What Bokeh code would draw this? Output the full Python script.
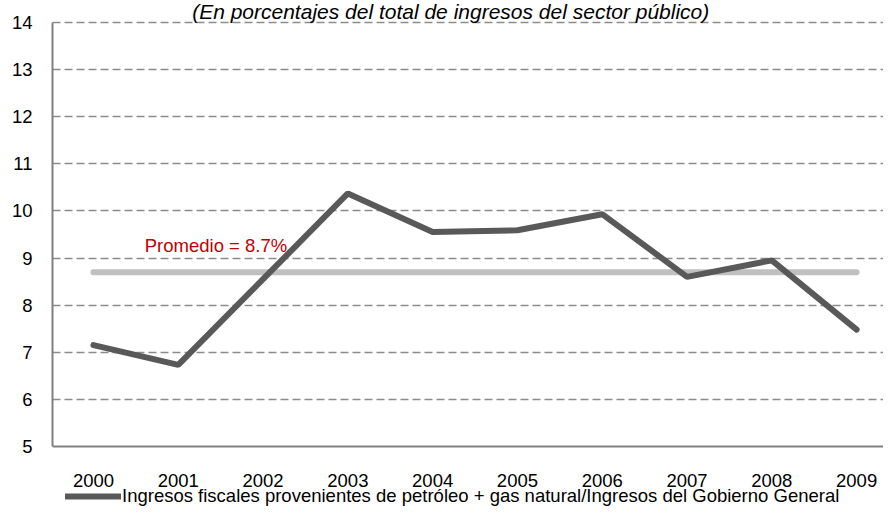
from bokeh.plotting import figure
from bokeh.models import FixedTicker, Range1d, Label, Legend, LegendItem, Span, ColumnDataSource
from bokeh.core.properties import value
from bokeh.embed import file_html
from bokeh.resources import INLINE

years = ["2000", "2001", "2002", "2003", "2004", "2005", "2006", "2007", "2008", "2009"]
share = [7.15, 6.73, 8.55, 10.37, 9.55, 9.59, 9.93, 8.60, 8.95, 7.48]
average = 8.7
y_ticks = [5, 6, 7, 8, 9, 10, 11, 12, 13, 14]
title_text = "(En porcentajes del total de ingresos del sector público)"
series_name = "Ingresos fiscales provenientes de petróleo + gas natural/Ingresos del Gobierno General"

FONT = "Liberation Sans"
FS = "18.5px"
idx = list(range(len(years)))
y_min, y_max = y_ticks[0], y_ticks[-1]

# frame covers the whole canvas height so title and legend sit inside it
p = figure(width=883, height=507, output_backend="svg", toolbar_location=None,
           x_axis_location=None,
           x_range=Range1d(-0.483, 9.317), y_range=Range1d(3.703, 14.467),
           min_border_left=52, min_border_right=0, min_border_top=0, min_border_bottom=0)
p.outline_line_color = None
p.background_fill_color = "white"
p.border_fill_color = "white"

# grid
p.xgrid.grid_line_color = None
p.ygrid.grid_line_color = "#8c8c8c"
p.ygrid.grid_line_width = 1.5
p.ygrid.grid_line_dash = "8 4"
p.ygrid.ticker = FixedTicker(ticks=y_ticks[1:])

# y axis
yax = p.yaxis[0]
yax.ticker = FixedTicker(ticks=y_ticks)
yax.bounds = (y_min, y_max)
yax.axis_line_color = "#808080"
yax.axis_line_width = 2
yax.major_tick_line_color = None
yax.minor_tick_line_color = None
yax.major_tick_out = 0
yax.major_tick_in = 0
yax.major_label_text_font = FONT
yax.major_label_text_font_size = FS
yax.major_label_text_color = "black"
yax.major_label_standoff = 20

# category axis line at the bottom of the value range
p.add_layout(Span(location=y_min, dimension="width", line_color="#808080", line_width=2))

# category labels
lab_src = ColumnDataSource(dict(x=idx, y=[y_min - 0.72] * len(idx), t=years))
p.text("x", "y", text="t", source=lab_src, text_font=value(FONT), text_font_size=FS,
       text_color="black", text_align="center", text_baseline="middle")

# average line
avg_r = p.line(idx, [average] * len(idx), line_color="#c0c0c0", line_width=6, line_cap="round")

# main series
r = p.line(idx, share, line_color="#595959", line_width=6, line_cap="round")

p.add_layout(Label(x=0.605, y=9.268, text=f"Promedio = {average}%", text_color="#c00000",
                   text_font=FONT, text_font_size=FS, text_baseline="alphabetic"))

p.add_layout(Label(x=4.213, y=14.235, text=title_text, text_color="black", text_font=FONT,
                   text_font_size="21px", text_font_style="italic", text_align="center",
                   text_baseline="alphabetic"))

legend = Legend(items=[LegendItem(label=series_name, renderers=[r])],
                location=(13, 0), orientation="horizontal",
                glyph_width=56, glyph_height=18, label_height=18, label_standoff=1,
                padding=0, margin=0, spacing=0,
                border_line_color=None, background_fill_alpha=0,
                label_text_font=FONT, label_text_font_size=FS, label_text_color="black")
p.add_layout(legend, "center")

open("out.html", "w").write(file_html(p, INLINE))
